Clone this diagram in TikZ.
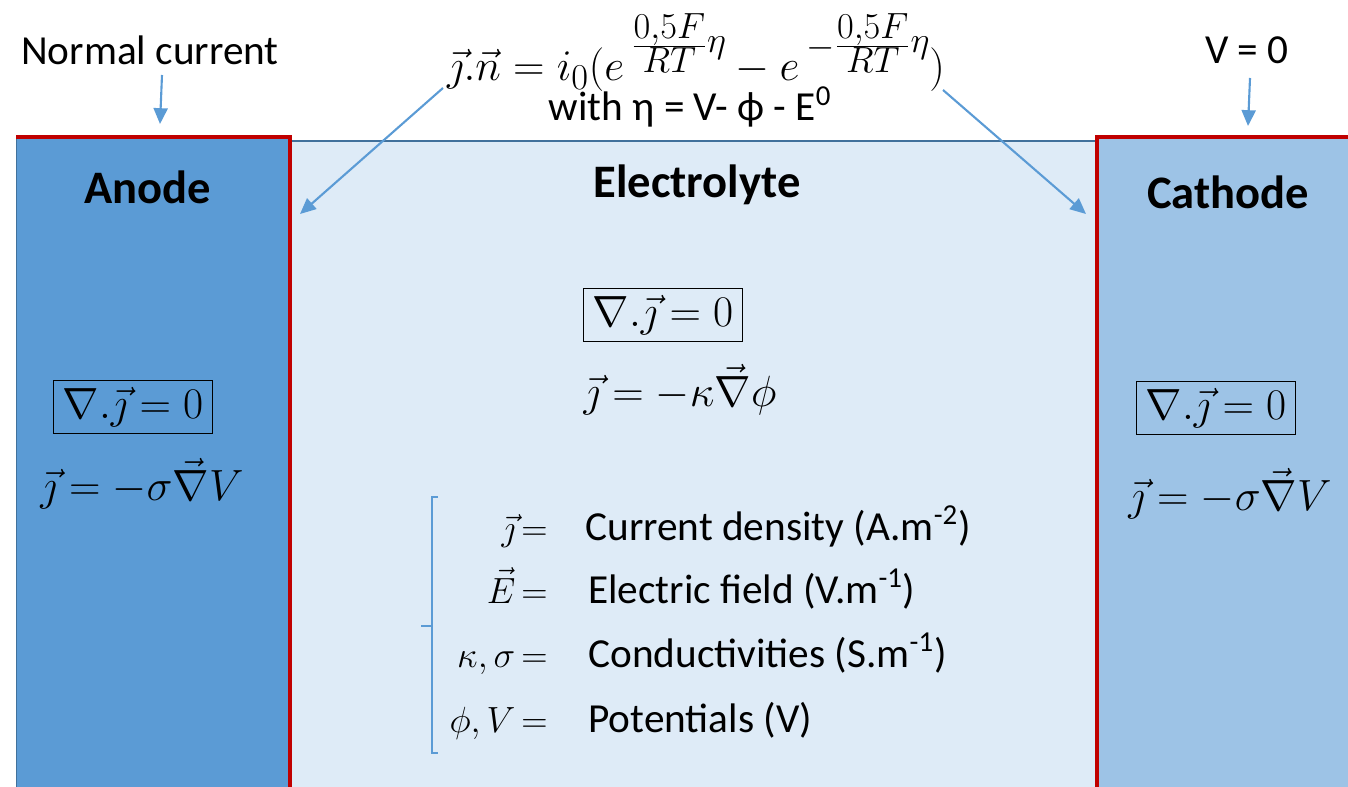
\documentclass[tikz,border=0pt]{standalone}
\usepackage{fontspec}
\setmainfont{Carlito}
\usetikzlibrary{arrows.meta}
\definecolor{elec}{HTML}{DEEBF7}
\definecolor{anodec}{HTML}{5B9BD5}
\definecolor{cathc}{HTML}{9DC3E6}
\definecolor{bord}{HTML}{41719C}
\definecolor{redl}{HTML}{C00000}
\definecolor{arrc}{HTML}{5B9BD5}
\newcommand\myexpo[1]{\raisebox{0.42em}{$#1\frac{0{,}5F}{RT}\raisebox{0.1em}{$\scriptstyle\eta$}$}}
\tikzset{
  lbl/.style={inner sep=0pt, font=\fontsize{23.5}{28}\selectfont},
  head/.style={inner sep=0pt, font=\bfseries\fontsize{26.5}{30}\selectfont},
  eqn/.style={inner sep=0pt, font=\fontsize{25}{30}\selectfont},
  defl/.style={inner sep=0pt, font=\fontsize{22.5}{28}\selectfont},
  topeq/.style={inner sep=0pt, font=\fontsize{31.5}{36}\selectfont},
  boxeq/.style={draw=black, line width=0.6pt, inner xsep=5pt, inner ysep=4pt, font=\fontsize{25}{30}\selectfont},
  arr/.style={draw=arrc, line width=1.2pt, -{Triangle[length=9pt,width=8pt]}},
  redline/.style={draw=redl, line width=2.3pt},
  brace/.style={draw=arrc, line width=0.7pt},
}
\begin{document}
\begin{tikzpicture}[x=0.02cm, y=-0.02cm]
\useasboundingbox (0,0) rectangle (1348,787);
% regions
\fill[elec] (16,140) rectangle (1348,787);
\draw[bord, line width=0.8pt] (16,141) -- (1348,141);
\fill[anodec] (16,137) rectangle (290,787);
\draw[bord, line width=0.8pt] (16.5,137) -- (16.5,787);
\fill[cathc] (1097,137) rectangle (1348,787);
\draw[redline] (16,137) -- (290,137) -- (290,787);
\draw[redline] (1348,137) -- (1097,137) -- (1097,787);
% headings
\node[head] (anode) at (148,187) {Anode};
\node[head] (elyte) at (697,185) {Electrolyte};
\node[head] (cath) at (1228,192) {Cathode};
% top labels
\node[lbl] (nc) at (150,50) {Normal current};
\node[lbl] (v0) at (1247,50) {V = 0};
\coordinate (ncA) at (162,75);
\coordinate (ncB) at (160,124);
\draw[arr] (ncA) -- (ncB);
\coordinate (v0A) at (1250,78);
\coordinate (v0B) at (1248,126);
\draw[arr] (v0A) -- (v0B);
% top equation
\node[topeq, anchor=base] (bv) at (696,81) {$\vec{\jmath}.\vec{n} = i_0(e\,\myexpo{} - e\,\myexpo{{\scriptstyle -}})$};
\node[lbl] (eta) at (690,107) {with η = V- ϕ - E\textsuperscript{0}};
\coordinate (la) at (443,88);
\coordinate (lb) at (300,214);
\draw[arr] (la) -- (lb);
\coordinate (ra) at (943,90);
\coordinate (rb) at (1086,214);
\draw[arr] (ra) -- (rb);
% boxed equations
\node[boxeq] (divE) at (663,315) {$\nabla.\vec{\jmath} = 0$};
\node[boxeq] (divA) at (133,407) {$\nabla.\vec{\jmath} = 0$};
\node[boxeq] (divC) at (1216,408) {$\nabla.\vec{\jmath} = 0$};
\node[eqn] (ohmE) at (680,390) {$\vec{\jmath} = -\kappa\vec{\nabla}\phi$};
\node[eqn] (ohmA) at (142,484) {$\vec{\jmath} = -\sigma\vec{\nabla}V$};
\node[eqn] (ohmC) at (1230,494) {$\vec{\jmath} = -\sigma\vec{\nabla}V$};
% brace
\coordinate (bt) at (438,497);
\coordinate (bm) at (421,626);
\coordinate (bb) at (438,753);
\draw[brace] (bt) -- (432,497) -- (432,626) -- (bm);
\draw[brace] (432,626) -- (432,753) -- (bb);
% definitions
\node[defl, anchor=base east] (d1l) at (548,540) {$\vec{\jmath}\mskip-2mu =$};
\node[lbl, anchor=base west] (d1r) at (585,540) {Current density (A.m\textsuperscript{-2})};
\node[defl, anchor=base east] (d2l) at (548,603) {$\vec{E}\mskip-2mu =$};
\node[lbl, anchor=base west] (d2r) at (588,603) {Electric field (V.m\textsuperscript{-1})};
\node[defl, anchor=base east] (d3l) at (548,667) {$\kappa, \sigma\mskip-2mu =$};
\node[lbl, anchor=base west] (d3r) at (588,667) {Conductivities (S.m\textsuperscript{-1})};
\node[defl, anchor=base east] (d4l) at (548,732) {$\phi, V\mskip-2mu =$};
\node[lbl, anchor=base west] (d4r) at (588,732) {Potentials (V)};
\end{tikzpicture}
\end{document}
